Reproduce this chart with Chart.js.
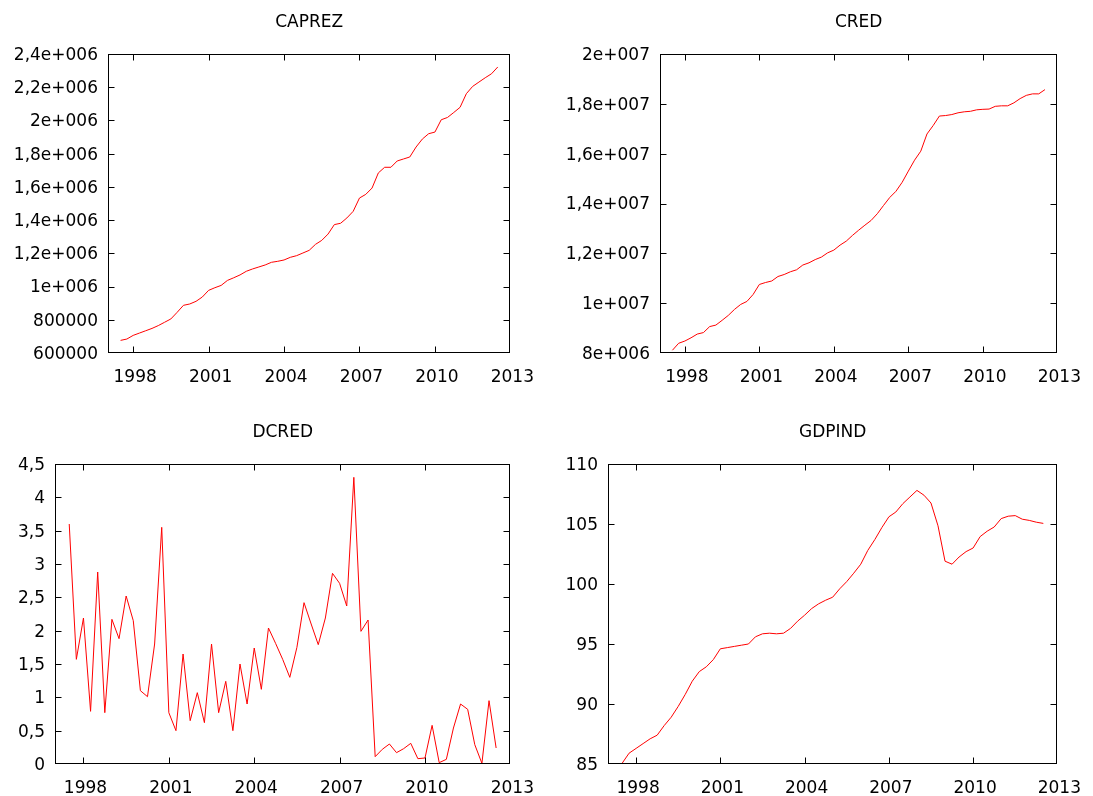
<!DOCTYPE html>
<html>
<head>
<meta charset="utf-8">
<title>CAPREZ, CRED, DCRED, GDPIND</title>
<script src="https://cdn.jsdelivr.net/npm/chart.js@4.4.0/dist/chart.umd.min.js"></script>
<style>
  html, body { margin: 0; padding: 0; background: #fff; }
  #page { position: relative; width: 1093px; height: 796px; overflow: hidden; }
  #page canvas { position: absolute; }
</style>
</head>
<body>
<div id="page">
  <canvas id="c-caprez" width="546" height="400" style="left:0;top:0"></canvas>
  <canvas id="c-cred"   width="547" height="400" style="left:546px;top:0"></canvas>
  <canvas id="c-dcred"  width="546" height="386" style="left:0;top:410px"></canvas>
  <canvas id="c-gdpind" width="547" height="386" style="left:546px;top:410px"></canvas>
</div>
<script>
// ── Data (quarterly, 1997:3 – 2012:3) ─────────────────────────────────────────

const QUARTERS = [
  '1997:3', '1997:4',
  '1998:1', '1998:2', '1998:3', '1998:4',
  '1999:1', '1999:2', '1999:3', '1999:4',
  '2000:1', '2000:2', '2000:3', '2000:4',
  '2001:1', '2001:2', '2001:3', '2001:4',
  '2002:1', '2002:2', '2002:3', '2002:4',
  '2003:1', '2003:2', '2003:3', '2003:4',
  '2004:1', '2004:2', '2004:3', '2004:4',
  '2005:1', '2005:2', '2005:3', '2005:4',
  '2006:1', '2006:2', '2006:3', '2006:4',
  '2007:1', '2007:2', '2007:3', '2007:4',
  '2008:1', '2008:2', '2008:3', '2008:4',
  '2009:1', '2009:2', '2009:3', '2009:4',
  '2010:1', '2010:2', '2010:3', '2010:4',
  '2011:1', '2011:2', '2011:3', '2011:4',
  '2012:1', '2012:2', '2012:3',
];

const CAPREZ = [
  676000, 684000,
  706000, 720000, 734000, 748000,
  765000, 785000, 805000, 845000,
  887000, 895000, 911000, 937000,
  977000, 993000, 1007000, 1037000,
  1053000, 1070000, 1092000, 1106000,
  1118000, 1130000, 1146000, 1152000,
  1160000, 1176000, 1186000, 1202000,
  1218000, 1254000, 1278000, 1316000,
  1373000, 1381000, 1413000, 1453000,
  1533000, 1555000, 1593000, 1684000,
  1718000, 1718000, 1756000, 1768000,
  1780000, 1840000, 1888000, 1920000,
  1930000, 2004000, 2018000, 2048000,
  2079000, 2161000, 2205000, 2231000,
  2257000, 2281000, 2322000,
];

const CRED = [
  8110000, 8390000,
  8480000, 8610000, 8760000, 8820000,
  9060000, 9120000, 9310000, 9510000,
  9750000, 9950000, 10070000, 10350000,
  10750000, 10830000, 10890000, 11070000,
  11150000, 11260000, 11340000, 11530000,
  11620000, 11750000, 11850000, 12020000,
  12130000, 12330000, 12490000, 12720000,
  12930000, 13130000, 13320000, 13590000,
  13920000, 14240000, 14490000, 14850000,
  15300000, 15740000, 16100000, 16790000,
  17130000, 17510000, 17530000, 17570000,
  17640000, 17680000, 17700000, 17760000,
  17780000, 17790000, 17900000, 17920000,
  17920000, 18040000, 18210000, 18340000,
  18400000, 18400000, 18570000,
];

const DCRED = [
  3.60, 1.57,
  2.19, 0.79, 2.88, 0.77,
  2.17, 1.88, 2.52, 2.15,
  1.10, 1.01, 1.80, 3.55,
  0.77, 0.50, 1.65, 0.65,
  1.07, 0.62, 1.80, 0.77,
  1.24, 0.50, 1.50, 0.90,
  1.74, 1.12, 2.04, 1.81,
  1.57, 1.30, 1.75, 2.42,
  2.10, 1.79, 2.19, 2.86,
  2.71, 2.37, 4.30, 1.99,
  2.16, 0.11, 0.22, 0.30,
  0.17, 0.23, 0.31, 0.08,
  0.09, 0.58, 0.02, 0.07,
  0.54, 0.90, 0.82, 0.29,
  0.01, 0.95, 0.24,
];

const GDPIND = [
  85.05, 85.9,
  86.3, 86.7, 87.1, 87.4,
  88.2, 88.9, 89.8, 90.8,
  91.9, 92.7, 93.1, 93.7,
  94.6, 94.7, 94.8, 94.9,
  95.0, 95.6, 95.85, 95.9,
  95.85, 95.9, 96.3, 96.9,
  97.4, 97.95, 98.35, 98.65,
  98.9, 99.6, 100.2, 100.9,
  101.65, 102.8, 103.7, 104.7,
  105.6, 106.0, 106.7, 107.25,
  107.8, 107.4, 106.75, 104.85,
  101.9, 101.65, 102.25, 102.7,
  103.0, 103.95, 104.4, 104.75,
  105.45, 105.65, 105.7, 105.4,
  105.3, 105.15, 105.05,
];

// ── Tick values and labels ────────────────────────────────────────────────────

const X_TICKS  = [1998, 2001, 2004, 2007, 2010, 2013];
const X_LABELS = ['1998', '2001', '2004', '2007', '2010', '2013'];

const CAPREZ_YTICKS  = [600000, 800000, 1000000, 1200000, 1400000, 1600000, 1800000, 2000000, 2200000, 2400000];
const CAPREZ_YLABELS = ['600000', '800000', '1e+006', '1,2e+006', '1,4e+006', '1,6e+006', '1,8e+006', '2e+006', '2,2e+006', '2,4e+006'];

const CRED_YTICKS  = [8000000, 10000000, 12000000, 14000000, 16000000, 18000000, 20000000];
const CRED_YLABELS = ['8e+006', '1e+007', '1,2e+007', '1,4e+007', '1,6e+007', '1,8e+007', '2e+007'];

const DCRED_YTICKS  = [0, 0.5, 1, 1.5, 2, 2.5, 3, 3.5, 4, 4.5];
const DCRED_YLABELS = ['0', '0,5', '1', '1,5', '2', '2,5', '3', '3,5', '4', '4,5'];

const GDPIND_YTICKS  = [85, 90, 95, 100, 105, 110];
const GDPIND_YLABELS = ['85', '90', '95', '100', '105', '110'];

// ── Helpers ───────────────────────────────────────────────────────────────────

const TICK_LEN = 6;

function quarterToX(s) {
  const [y, q] = s.split(':').map(Number);
  return y + (q - 1) / 4;
}

function clamp(v, lo, hi) {
  return Math.min(Math.max(v, lo), hi);
}

// gnuplot-style frame: full box with inward tick marks on all four sides
function frameTicks(xTicks, yTicks) {
  return {
    id: 'frameTicks',
    afterDraw(chart) {
      const { ctx, chartArea: a } = chart;
      const sx = chart.scales.x;
      const sy = chart.scales.y;
      const L = Math.round(a.left) + 0.5;
      const R = Math.round(a.right) - 0.5;
      const T = Math.round(a.top) + 0.5;
      const B = Math.round(a.bottom) - 0.5;
      ctx.save();
      ctx.setLineDash([]);
      ctx.strokeStyle = '#000';
      ctx.lineWidth = 1;
      ctx.beginPath();
      xTicks.forEach(v => {
        const px = clamp(Math.round(sx.getPixelForValue(v)) + 0.5, L, R);
        ctx.moveTo(px, B);
        ctx.lineTo(px, B - TICK_LEN);
        ctx.moveTo(px, T);
        ctx.lineTo(px, T + TICK_LEN);
      });
      yTicks.forEach(v => {
        const py = clamp(Math.round(sy.getPixelForValue(v)) + 0.5, T, B);
        ctx.moveTo(L, py);
        ctx.lineTo(L + TICK_LEN, py);
        ctx.moveTo(R, py);
        ctx.lineTo(R - TICK_LEN, py);
      });
      ctx.stroke();
      ctx.strokeRect(L, T, R - L, B - T);
      ctx.restore();
    },
  };
}

Chart.defaults.font.family = "'DejaVu Sans', Verdana, sans-serif";
Chart.defaults.font.size = 17;
Chart.defaults.color = '#000';

function makePanel(id, title, values, yTicks, yLabels, box) {
  const ctx = document.getElementById(id).getContext('2d');
  return new Chart(ctx, {
    type: 'line',
    data: {
      datasets: [{
        data: QUARTERS.map((q, i) => ({ x: quarterToX(q), y: values[i] })),
        borderColor: '#ff0000',
        borderWidth: 1,
        pointRadius: 0,
        tension: 0,
        fill: false,
      }],
    },
    options: {
      responsive: false,
      animation: false,
      events: [],
      layout: { padding: { left: 0, right: box.padRight, top: 0, bottom: box.padBottom } },
      plugins: {
        legend: { display: false },
        tooltip: { enabled: false },
        title: {
          display: true,
          text: title,
          fullSize: false,
          color: '#000',
          font: { size: 17, weight: 'normal' },
          padding: { top: 12.8, bottom: 20.8 },
        },
      },
      scales: {
        x: {
          type: 'linear',
          min: 1997,
          max: 2013,
          grid: { display: false, drawTicks: false },
          border: { display: false },
          afterBuildTicks: s => { s.ticks = X_TICKS.map(v => ({ value: v })); },
          afterFit: s => { s.height = 30; },
          ticks: {
            autoSkip: false,
            maxRotation: 0,
            padding: 14,
            labelOffset: 2,
            callback: (v, i) => X_LABELS[i],
          },
        },
        y: {
          min: yTicks[0],
          max: yTicks[yTicks.length - 1],
          grid: { display: false, drawTicks: false },
          border: { display: false },
          afterBuildTicks: s => { s.ticks = yTicks.map(v => ({ value: v })); },
          afterFit: s => { s.width = box.yWidth; },
          ticks: {
            autoSkip: false,
            padding: 10,
            labelOffset: 1.5,
            callback: (v, i) => yLabels[i],
          },
        },
      },
    },
    plugins: [frameTicks(X_TICKS, yTicks)],
  });
}

// ── Bootstrap ─────────────────────────────────────────────────────────────────

makePanel('c-caprez', 'CAPREZ', CAPREZ, CAPREZ_YTICKS, CAPREZ_YLABELS,
  { yWidth: 108, padRight: 35, padBottom: 17 });
makePanel('c-cred', 'CRED', CRED, CRED_YTICKS, CRED_YLABELS,
  { yWidth: 114, padRight: 28, padBottom: 17 });
makePanel('c-dcred', 'DCRED', DCRED, DCRED_YTICKS, DCRED_YLABELS,
  { yWidth: 55, padRight: 35, padBottom: 2 });
makePanel('c-gdpind', 'GDPIND', GDPIND, GDPIND_YTICKS, GDPIND_YLABELS,
  { yWidth: 62, padRight: 28, padBottom: 2 });
</script>
</body>
</html>
